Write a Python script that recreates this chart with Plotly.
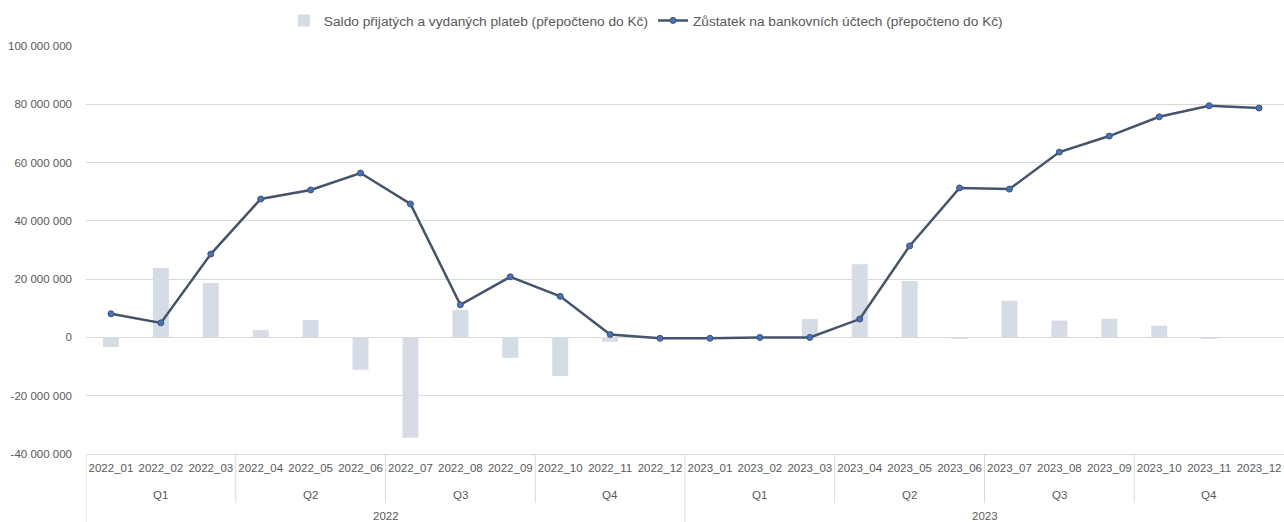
import plotly.graph_objects as go

months = ["2022_01", "2022_02", "2022_03", "2022_04", "2022_05", "2022_06",
          "2022_07", "2022_08", "2022_09", "2022_10", "2022_11", "2022_12",
          "2023_01", "2023_02", "2023_03", "2023_04", "2023_05", "2023_06",
          "2023_07", "2023_08", "2023_09", "2023_10", "2023_11", "2023_12"]
quarters = ["Q1", "Q2", "Q3", "Q4", "Q1", "Q2", "Q3", "Q4"]
years = ["2022", "2023"]

saldo_m = [-3.3, 23.8, 18.7, 2.5, 6.0, -11.1, -34.4, 9.4, -7.0, -13.2, -1.5, -0.1,
           -0.1, 0.1, 6.3, 25.1, 19.4, -0.4, 12.6, 5.8, 6.4, 4.0, -0.4, 0.0]
zustatek_m = [8.1, 5.0, 28.6, 47.5, 50.6, 56.4, 45.8, 11.2, 20.8, 14.1, 1.0, -0.3,
              -0.3, 0.0, 0.0, 6.3, 31.4, 51.3, 50.9, 63.6, 69.1, 75.7, 79.5, 78.7]

saldo = [v * 1e6 for v in saldo_m]
zustatek = [v * 1e6 for v in zustatek_m]

y_ticks = list(range(-40_000_000, 100_000_001, 20_000_000))
y_text = [f"{v:,}".replace(",", " ") for v in y_ticks]

TXT = "#595959"
FONT = "Liberation Sans"

fig = go.Figure()
fig.add_trace(go.Bar(
    x=months, y=saldo, name="Saldo přijatých a vydaných plateb (přepočteno do Kč)",
    marker=dict(color="#D6DCE5", line=dict(width=0)),
))
fig.add_trace(go.Scatter(
    x=months, y=zustatek, mode="lines+markers",
    name="Zůstatek na bankovních účtech (přepočteno do Kč)",
    line=dict(color="#44546A", width=2.5),
    marker=dict(color="#4472C4", size=6, line=dict(color="#44546A", width=1)),
))

L, T, B, W, H = 86, 46, 68, 1284, 522
plot_h = H - T - B

def py(p):
    return (H - B - p) / plot_h

shapes = []
for i in range(1, len(quarters)):
    xpos = i * 3 - 0.5
    y1 = py(522) if i * 3 == 12 else py(503)
    shapes.append(dict(type="line", xref="x", yref="paper", x0=xpos, x1=xpos,
                       y0=0, y1=y1, line=dict(color="#D9D9D9", width=1)))
shapes.append(dict(type="line", xref="x", yref="paper", x0=-0.5, x1=-0.5,
                   y0=0, y1=py(522), line=dict(color="#D9D9D9", width=1)))

annotations = []
for i, q in enumerate(quarters):
    annotations.append(dict(x=i * 3 + 1, y=py(495), xref="x", yref="paper", text=q,
                            showarrow=False, font=dict(family=FONT, size=11.5, color=TXT),
                            yanchor="middle", xanchor="center"))
for i, yr in enumerate(years):
    annotations.append(dict(x=i * 12 + 5.5, y=py(516), xref="x", yref="paper", text=yr,
                            showarrow=False, font=dict(family=FONT, size=11.5, color=TXT),
                            yanchor="middle", xanchor="center"))

fig.update_layout(
    width=W, height=H,
    margin=dict(l=L, r=0, t=T, b=B, pad=0),
    plot_bgcolor="white", paper_bgcolor="white",
    bargap=0.68,
    font=dict(family=FONT, size=11, color=TXT),
    showlegend=True,
    legend=dict(orientation="h", xref="container", yref="container",
                x=0.503, xanchor="center", y=1 - 5 / H, yanchor="top",
                font=dict(family=FONT, size=13.7, color=TXT),
                itemwidth=30, bgcolor="rgba(0,0,0,0)"),
    xaxis=dict(type="category", range=[-0.5, 23.5], autorange=False,
               showgrid=False, showline=True, linecolor="#D9D9D9",
               linewidth=1, ticks="", tickfont=dict(family=FONT, size=11.5, color=TXT),
               ticklabelstandoff=3,
               tickangle=0, zeroline=False, automargin=False),
    yaxis=dict(range=[-40_000_000, 100_000_000], autorange=False,
               tickvals=y_ticks, ticktext=y_text,
               showgrid=True, gridcolor="#D9D9D9", gridwidth=1, zeroline=True,
               zerolinecolor="#D9D9D9", zerolinewidth=1, showline=False, ticks="",
               ticklabelstandoff=13, automargin=False,
               tickfont=dict(family=FONT, size=11.5, color=TXT)),
    shapes=shapes,
    annotations=annotations,
    hovermode=False,
)

fig.write_html("out.html", config={"displayModeBar": False},
               post_script="document.body.style.margin='0';document.body.style.overflow='hidden';")
